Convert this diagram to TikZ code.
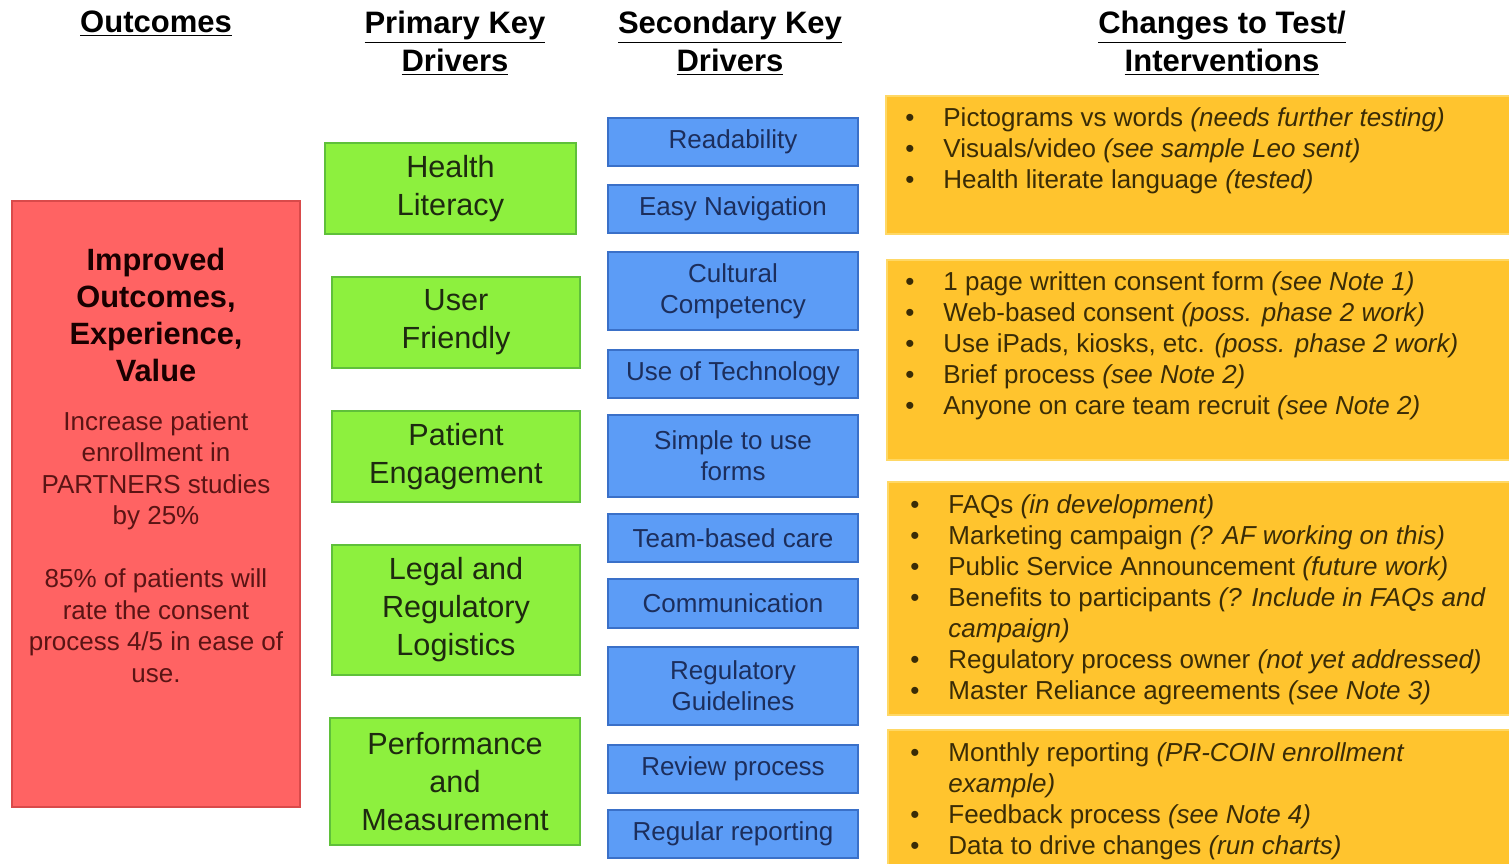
\documentclass[tikz,border=0pt]{standalone}
\usepackage{fontspec}
\setmainfont{Liberation Sans}
\usetikzlibrary{fit}
\definecolor{redfill}{HTML}{FF6363}
\definecolor{redline}{HTML}{D94A4A}
\definecolor{redtext}{HTML}{5A1414}
\definecolor{greenfill}{HTML}{8DF03E}
\definecolor{greenline}{HTML}{5FC03A}
\definecolor{greentext}{HTML}{1E2A10}
\definecolor{bluefill}{HTML}{5C9CF6}
\definecolor{blueline}{HTML}{3A70C8}
\definecolor{bluetext}{HTML}{1C2E5C}
\definecolor{orangefill}{HTML}{FFC42E}
\definecolor{orangeline}{HTML}{FFD865}
\definecolor{orangetext}{HTML}{3A2C06}
\begin{document}
\begin{tikzpicture}[x=0.5pt,y=-0.5pt,
  hdr/.style={align=center, inner sep=0pt, font=\bfseries\fontsize{15.5}{19}\selectfont},
  greenbox/.style={draw=greenline, fill=greenfill, line width=0.8pt, inner sep=0pt, align=center, text=greentext, font=\fontsize{15.3}{19}\selectfont, minimum width=125pt},
  bluebox/.style={draw=blueline, fill=bluefill, line width=0.8pt, inner sep=0pt, align=center, text=bluetext, font=\fontsize{13}{15.5}\selectfont, minimum width=125pt},
  orangebox/.style={draw=orangeline, fill=orangefill, line width=0.8pt, inner sep=0pt},
  orangetxt/.style={align=left, inner sep=0pt, anchor=north west, text=orangetext, font=\fontsize{13}{15.5}\selectfont},
  redbox/.style={draw=redline, fill=redfill, line width=0.8pt, inner sep=0pt},
  ht/.style={minimum height=#1*0.5pt}
]
\useasboundingbox (0,0) rectangle (1509,863);
\newcommand{\bul}{\makebox[19pt][l]{•}}
\newcommand{\ind}{\hspace*{19pt}}

% headers
\node[hdr] (h1) at (156,24) {\underline{Outcomes}};
\node[hdr] (h2) at (455,43) {\underline{Primary Key}\\\underline{Drivers}};
\node[hdr] (h3) at (730,43) {\underline{Secondary Key}\\\underline{Drivers}};
\node[hdr] (h4) at (1222,43) {\underline{Changes to Test/}\\\underline{Interventions}};

% outcome
\node[redbox, fit={(12,201) (300,807)}] (out) {};
\node[align=center, inner sep=0pt, font=\bfseries\fontsize{15.4}{18.5}\selectfont, text=black!90!red] (outt) at (156,315) {Improved\\Outcomes,\\Experience,\\Value};
\node[align=center, inner sep=0pt, font=\fontsize{13}{15.75}\selectfont, text=redtext] (outb) at (156,547) {Increase patient\\enrollment in\\PARTNERS studies\\by 25\%\\[15.75pt]85\% of patients will\\rate the consent\\process 4/5 in ease of\\use.};

% primary drivers
\node[greenbox, ht=91, minimum width=125.5pt] (p1) at (450.5,188.5) {Health\\Literacy};
\node[greenbox, ht=91, minimum width=124pt] (p2) at (456,322.5) {User\\Friendly};
\node[greenbox, ht=91, minimum width=124pt] (p3) at (456,456.5) {Patient\\Engagement};
\node[greenbox, ht=130, minimum width=124pt] (p4) at (456,610) {Legal and\\Regulatory\\Logistics};
\node[greenbox, ht=127, minimum width=125pt] (p5) at (455,781.5) {Performance\\and\\Measurement};

% secondary drivers
\node[bluebox, ht=48] (s1) at (733,142) {Readability};
\node[bluebox, ht=48] (s2) at (733,209) {Easy Navigation};
\node[bluebox, ht=78] (s3) at (733,291) {Cultural\\Competency};
\node[bluebox, ht=48] (s4) at (733,374) {Use of Technology};
\node[bluebox, ht=82] (s5) at (733,456) {Simple to use\\forms};
\node[bluebox, ht=48] (s6) at (733,538) {Team-based care};
\node[bluebox, ht=49] (s7) at (733,603.5) {Communication};
\node[bluebox, ht=78] (s8) at (733,686) {Regulatory\\Guidelines};
\node[bluebox, ht=48] (s9) at (733,769) {Review process};
\node[bluebox, ht=48] (s10) at (733,834) {Regular reporting};

% changes
\node[orangebox, fit={(886,96) (1520,234)}] (c1) {};
\node[orangebox, fit={(887,260) (1520,460)}] (c2) {};
\node[orangebox, fit={(888,482) (1520,715)}] (c3) {};
\node[orangebox, fit={(888,730) (1520,880)}] (c4) {};

\node[orangetxt] (t1) at (905,107) {\bul Pictograms vs words \textit{(needs further testing)}\\
\bul Visuals/video \textit{(see sample Leo sent)}\\
\bul Health literate language \textit{(tested)}};
\node[orangetxt] (t2) at (905,271) {\bul 1 page written consent form \textit{(see Note 1)}\\
\bul Web-based consent \textit{(poss. phase 2 work)}\\
\bul Use iPads, kiosks, etc. \textit{(poss. phase 2 work)}\\
\bul Brief process \textit{(see Note 2)}\\
\bul Anyone on care team recruit \textit{(see Note 2)}};
\node[orangetxt] (t3) at (910,494) {\bul FAQs \textit{(in development)}\\
\bul Marketing campaign \textit{(? AF working on this)}\\
\bul Public Service Announcement \textit{(future work)}\\
\bul Benefits to participants \textit{(? Include in FAQs and}\\
\ind\textit{campaign)}\\
\bul Regulatory process owner \textit{(not yet addressed)}\\
\bul Master Reliance agreements \textit{(see Note 3)}};
\node[orangetxt] (t4) at (910,742) {\bul Monthly reporting \textit{(PR-COIN enrollment}\\
\ind\textit{example)}\\
\bul Feedback process \textit{(see Note 4)}\\
\bul Data to drive changes \textit{(run charts)}};
\end{tikzpicture}
\end{document}
